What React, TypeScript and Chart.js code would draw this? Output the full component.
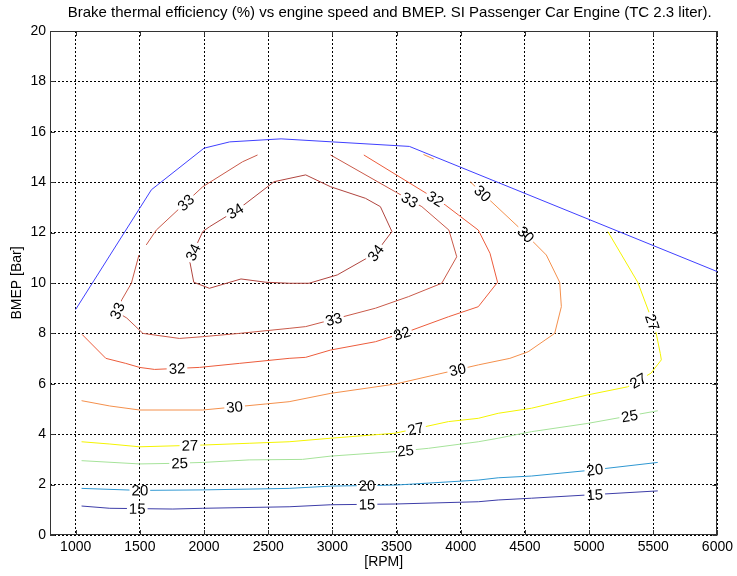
import React, { useEffect, useRef } from 'react';
import { Chart, registerables } from 'chart.js';

Chart.register(...registerables);

const TITLE = 'Brake thermal efficiency (%) vs engine speed and BMEP. SI Passenger Car Engine (TC 2.3 liter).';
const X_LABEL = '[RPM]';
const Y_LABEL = 'BMEP [Bar]';
const X_MIN = 800;
const X_MAX = 6000;
const Y_MIN = 0;
const Y_MAX = 20;
const X_TICKS = [1000, 1500, 2000, 2500, 3000, 3500, 4000, 4500, 5000, 5500, 6000];
const Y_TICKS = [0, 2, 4, 6, 8, 10, 12, 14, 16, 18, 20];

type Pt = [number, number] | null;

// Full-load (maximum BMEP) line
const FULL_LOAD: Pt[] = [
  [1000, 8.95], [1590, 13.7], [2000, 15.35], [2200, 15.6], [2600, 15.72],
  [3000, 15.6], [3600, 15.42], [6000, 10.45],
];

// Contour lines, [rpm, bmep]; null = break in the line
const C15: Pt[] = [
  [1046, 1.15], [1266, 1.06], [1757, 1.03], [1990, 1.06], [2663, 1.12], [2986, 1.2],
  [3490, 1.23], [4137, 1.32], [4292, 1.39], [4551, 1.46], [5535, 1.75],
];
const C20: Pt[] = [
  [1046, 1.85], [1498, 1.77], [1990, 1.79], [2663, 1.85], [2986, 1.94], [3490, 1.98],
  [4137, 2.18], [4292, 2.27], [4551, 2.34], [4991, 2.56], [5535, 2.88],
];
const C25: Pt[] = [
  [1046, 2.95], [1498, 2.82], [1731, 2.84], [1990, 2.88], [2352, 2.98], [2766, 3.0],
  [2986, 3.13], [3490, 3.31], [3749, 3.44], [4137, 3.7], [4292, 3.84], [4551, 4.1],
  [4991, 4.43], [5535, 4.93],
];
const C27: Pt[] = [
  [1046, 3.7], [1266, 3.61], [1498, 3.5], [1990, 3.57], [2352, 3.64], [2663, 3.7],
  [2986, 3.84], [3490, 4.04], [3904, 4.5], [4137, 4.63], [4292, 4.83], [4551, 5.03],
  [4990, 5.56], [5300, 5.88], [5482, 6.42], [5563, 6.95], [5555, 7.2], [5523, 8.0],
  [5470, 8.8], [5379, 10.03], [5146, 12.04],
];
const C30: Pt[] = [
  [1046, 5.33], [1266, 5.12], [1498, 4.96], [1990, 4.96], [2482, 5.2], [2663, 5.29],
  [2986, 5.62], [3490, 5.99], [4137, 6.75], [4383, 7.01], [4525, 7.27], [4732, 8.0],
  [4784, 9.06], [4771, 10.03], [4667, 11.11], [4448, 12.23], [4073, 14.02],
  null,
  [3790, 14.92], [3710, 15.1],
];
const C32: Pt[] = [
  [1050, 7.96], [1235, 7.01], [1390, 6.81], [1498, 6.65], [1615, 6.57], [1964, 6.65],
  [2275, 6.81], [2663, 7.01], [2792, 7.05], [2986, 7.34], [3336, 7.67], [3620, 8.13],
  [3904, 8.66], [4137, 9.06], [4287, 10.03], [4228, 11.18], [4137, 12.1], [3982, 12.7],
  [3879, 13.1], [3245, 15.08],
];
const C33: Pt[] = [
  [1550, 11.51], [1628, 12.1], [1990, 13.82], [2300, 14.81], [2417, 15.08],
  null,
  [1493, 11.11], [1434, 9.99], [1359, 9.33], [1320, 8.85], [1398, 8.61], [1524, 8.0],
  [1809, 7.8], [1990, 7.87], [2275, 8.0], [2663, 8.2], [2792, 8.27], [3336, 9.0],
  [3594, 9.46], [3852, 9.99], [3969, 11.04], [3908, 12.1], [3697, 13.03], [3490, 13.62],
  [2986, 15.08],
];
const C34: Pt[] = [
  [1887, 10.91], [1920, 10.03], [2042, 9.79], [2288, 10.16], [2482, 10.03], [2663, 9.99],
  [2818, 9.99], [3038, 10.32], [3336, 11.18], [3464, 12.04], [3374, 13.03], [3258, 13.36],
  [2986, 13.82], [2792, 14.29], [2546, 14.02], [2275, 12.96], [2042, 12.23], [1990, 12.04],
  [1887, 10.91],
];

// Inline label anchor points, [rpm, bmep]
const L15: [number, number][] = [[1480, 1.05], [3270, 1.22], [5045, 1.53]];
const L20: [number, number][] = [[1500, 1.78], [3270, 1.96], [5045, 2.58]];
const L25: [number, number][] = [[1810, 2.85], [3570, 3.35], [5317, 4.68]];
const L27: [number, number][] = [[1890, 3.56], [3650, 4.2], [5390, 6.05], [5472, 8.41]];
const L30: [number, number][] = [[2240, 5.0], [3980, 6.45], [4160, 13.49], [4502, 11.9]];
const L32: [number, number][] = [[1790, 6.55], [3540, 8.02], [3796, 13.29]];
const L33: [number, number][] = [[1328, 8.89], [1863, 13.17], [3012, 8.53], [3594, 13.21]];
const L34: [number, number][] = [[1910, 11.23], [2251, 12.78], [3338, 11.19]];

const LEVELS = [15, 20, 25, 27, 30, 32, 33, 34];
const CONTOURS: Record<number, Pt[]> = { 15: C15, 20: C20, 25: C25, 27: C27, 30: C30, 32: C32, 33: C33, 34: C34 };
const LABELS: Record<number, [number, number][]> = { 15: L15, 20: L20, 25: L25, 27: L27, 30: L30, 32: L32, 33: L33, 34: L34 };

const COLORS: Record<number, string> = {
  15: '#3d3da8',
  20: '#2f98d2',
  25: '#a6e39a',
  27: '#f4f400',
  30: '#f4904c',
  32: '#ec5c3c',
  33: '#c95a4a',
  34: '#b0453f',
};
const FULL_LOAD_COLOR = '#4040ff';
const FONT = '"Liberation Sans", Arial, Helvetica, sans-serif';
const LABEL_SIZE = 15;

const toData = (pts: Pt[]) => {
  let lastX = pts[0] ? pts[0][0] : 0;
  return pts.map((p) => {
    if (p === null) return { x: lastX, y: null as number | null };
    lastX = p[0];
    return { x: p[0], y: p[1] as number | null };
  });
};

type Placed = { x: number; y: number; angle: number; text: string; w: number };

function placeLabels(chart: any, level: number): Placed[] {
  const xs = chart.scales.x;
  const ys = chart.scales.y;
  const ctx = chart.ctx;
  ctx.save();
  ctx.font = `${LABEL_SIZE}px ${FONT}`;
  const pts = CONTOURS[level];
  const pix = pts.map((p) => (p ? [xs.getPixelForValue(p[0]), ys.getPixelForValue(p[1])] : null));
  const out: Placed[] = [];
  for (const [lx, ly] of LABELS[level]) {
    const px = xs.getPixelForValue(lx);
    const py = ys.getPixelForValue(ly);
    let best = Infinity;
    let bx = px, by = py, ang = 0;
    for (let i = 0; i < pix.length - 1; i++) {
      const a = pix[i], b = pix[i + 1];
      if (!a || !b) continue;
      const dx = b[0] - a[0], dy = b[1] - a[1];
      const len2 = dx * dx + dy * dy || 1;
      let t = ((px - a[0]) * dx + (py - a[1]) * dy) / len2;
      t = Math.max(0, Math.min(1, t));
      const cx = a[0] + t * dx, cy = a[1] + t * dy;
      const d = (cx - px) ** 2 + (cy - py) ** 2;
      if (d < best) {
        best = d; bx = cx; by = cy; ang = Math.atan2(dy, dx);
      }
    }
    if (ang > Math.PI / 2) ang -= Math.PI;
    if (ang < -Math.PI / 2) ang += Math.PI;
    const text = String(level);
    out.push({ x: bx, y: by, angle: ang, text, w: ctx.measureText(text).width });
  }
  ctx.restore();
  return out;
}

const contourPlugin = {
  id: 'contourLabels',
  beforeDatasetsDraw(chart: any) {
    // frame and inward tick marks
    const { ctx, chartArea: a } = chart;
    ctx.save();
    ctx.strokeStyle = '#333';
    ctx.lineWidth = 1;
    ctx.strokeRect(Math.round(a.left) + 0.5, Math.round(a.top) + 0.5, Math.round(a.right - a.left) - 1, Math.round(a.bottom - a.top) - 1);
    const tl = 5;
    ctx.beginPath();
    for (const v of X_TICKS) {
      const x = Math.round(chart.scales.x.getPixelForValue(v)) + 0.5;
      ctx.moveTo(x, a.bottom); ctx.lineTo(x, a.bottom - tl);
      ctx.moveTo(x, a.top); ctx.lineTo(x, a.top + tl);
    }
    for (const v of Y_TICKS) {
      const y = Math.round(chart.scales.y.getPixelForValue(v)) + 0.5;
      ctx.moveTo(a.left, y); ctx.lineTo(a.left + tl, y);
      ctx.moveTo(a.right, y); ctx.lineTo(a.right - tl, y);
    }
    ctx.stroke();
    ctx.restore();
  },
  beforeDatasetDraw(chart: any, args: any) {
    const ds = chart.data.datasets[args.index];
    if (ds.level === undefined) return;
    const ctx = chart.ctx;
    ctx.save();
    ctx.beginPath();
    ctx.rect(0, 0, chart.width, chart.height);
    for (const l of placeLabels(chart, ds.level)) {
      const hw = l.w / 2 + 2;
      const hh = 7;
      const c = Math.cos(l.angle), s = Math.sin(l.angle);
      const corners = [[-hw, -hh], [hw, -hh], [hw, hh], [-hw, hh]].map(([u, v]) => [l.x + u * c - v * s, l.y + u * s + v * c]);
      ctx.moveTo(corners[0][0], corners[0][1]);
      for (let k = 1; k < 4; k++) ctx.lineTo(corners[k][0], corners[k][1]);
      ctx.closePath();
    }
    ctx.clip('evenodd');
  },
  afterDatasetDraw(chart: any, args: any) {
    const ds = chart.data.datasets[args.index];
    if (ds.level === undefined) return;
    chart.ctx.restore();
  },
  afterDatasetsDraw(chart: any) {
    const ctx = chart.ctx;
    for (const level of LEVELS) {
      for (const l of placeLabels(chart, level)) {
        ctx.save();
        ctx.translate(l.x, l.y);
        ctx.rotate(l.angle);
        ctx.font = `${LABEL_SIZE}px ${FONT}`;
        ctx.fillStyle = '#000';
        ctx.textAlign = 'center';
        ctx.textBaseline = 'middle';
        ctx.fillText(l.text, 0, 1);
        ctx.restore();
      }
    }
  },
  afterDraw(chart: any) {
    const { ctx, chartArea: a } = chart;
    ctx.save();
    ctx.font = `15px ${FONT}`;
    ctx.fillStyle = '#000';
    ctx.textAlign = 'center';
    ctx.textBaseline = 'middle';
    ctx.fillText(TITLE, (a.left + a.right) / 2 + 6, 13);
    ctx.restore();
  },
};

export default function App() {
  const ref = useRef<HTMLCanvasElement | null>(null);
  useEffect(() => {
    document.body.style.margin = '0';
    const canvas = ref.current;
    if (!canvas) return;
    const datasets: any[] = LEVELS.map((lv) => ({
      label: String(lv),
      level: lv,
      data: toData(CONTOURS[lv]),
      borderColor: COLORS[lv],
      borderWidth: 1,
      pointRadius: 0,
      tension: 0,
      spanGaps: false,
      fill: false,
    }));
    datasets.push({
      label: 'Full load',
      data: toData(FULL_LOAD),
      borderColor: FULL_LOAD_COLOR,
      borderWidth: 1,
      pointRadius: 0,
      tension: 0,
      fill: false,
    });
    const chart = new Chart(canvas, {
      type: 'line',
      data: { datasets },
      plugins: [contourPlugin],
      options: {
        responsive: false,
        animation: false,
        devicePixelRatio: 1,
        layout: { padding: { left: 0, right: 17, top: 31, bottom: 0 } },
        plugins: { legend: { display: false }, tooltip: { enabled: false }, title: { display: false } },
        scales: {
          x: {
            type: 'linear',
            min: X_MIN,
            max: X_MAX,
            afterBuildTicks: (s: any) => { s.ticks = X_TICKS.map((v) => ({ value: v })); },
            afterFit: (s: any) => { s.height = 41; },
            grid: { color: '#000', lineWidth: 1, drawTicks: false },
            border: { display: false, dash: [2, 2] },
            ticks: { color: '#000', font: { family: FONT, size: 14 }, padding: 4, maxRotation: 0, autoSkip: false, callback: (v: any) => String(v) },
            title: { display: true, text: X_LABEL, color: '#000', font: { family: FONT, size: 14 }, padding: { top: 0, bottom: 5 } },
          },
          y: {
            type: 'linear',
            min: Y_MIN,
            max: Y_MAX,
            afterBuildTicks: (s: any) => { s.ticks = Y_TICKS.map((v) => ({ value: v })); },
            afterFit: (s: any) => { s.width = 50; },
            grid: { color: '#000', lineWidth: 1, drawTicks: false },
            border: { display: false, dash: [2, 2] },
            ticks: { color: '#000', font: { family: FONT, size: 14 }, padding: 4, autoSkip: false, callback: (v: any) => String(v) },
            title: { display: true, text: Y_LABEL, color: '#000', font: { family: FONT, size: 14 }, padding: { top: 9, bottom: 0 } },
          },
        },
      } as any,
    });
    return () => chart.destroy();
  }, []);
  return (
    <div style={{ width: 737, height: 576, background: '#fff' }}>
      <canvas ref={ref} width={737} height={576} />
    </div>
  );
}
